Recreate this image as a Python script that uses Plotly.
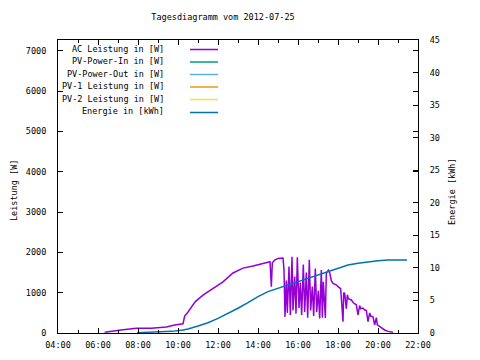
import plotly.graph_objects as go

DAY = "2012-07-25 "

ac_times = ["06:20", "06:45", "07:15", "07:55", "08:40", "09:25", "09:50", "10:15", "10:20", "10:30",
            "10:52", "11:15", "11:45", "12:15", "12:45", "13:15", "13:45", "14:15", "14:36", "14:40",
            "14:43", "14:50", "15:00", "15:15", "15:18", "15:21", "15:25", "15:28", "15:33", "15:37",
            "15:42", "15:45", "15:50", "15:54", "15:58", "16:03", "16:07", "16:11", "16:16", "16:20",
            "16:25", "16:29", "16:34", "16:38", "16:43", "16:47", "16:52", "16:56", "17:01", "17:05",
            "17:10", "17:13", "17:16", "17:22", "17:25", "17:31", "17:35", "17:40",
            "17:45", "17:56", "18:00", "18:08", "18:15", "18:17", "18:20", "18:25", "18:28", "18:31",
            "18:40", "18:46", "18:55", "19:00", "19:05", "19:08", "19:15", "19:20", "19:25", "19:30",
            "19:35", "19:38", "19:45", "19:50", "19:55", "19:58", "20:05", "20:10", "20:20", "20:30",
            "20:45", "21:05"]
ac_values = [20, 40, 80, 115, 120, 150, 200, 230, 420, 520,
             780, 940, 1115, 1270, 1490, 1610, 1660, 1735, 1770, 1150,
             1740, 1810, 1850, 1860, 1560, 400, 1300, 500, 1650, 450,
             1890, 560, 1400, 480, 1880, 620, 1250, 450, 1700, 520,
             1500, 380, 1820, 560, 1150, 420, 1600, 520, 1050, 360,
             1560, 380, 1270, 375, 1480, 1560, 1500,
             1300, 1230, 1190, 1150, 1100, 280, 1000, 980, 600, 950,
             850, 820, 750, 700, 450, 680, 600, 620, 570, 560,
             280, 500, 420, 400, 200, 380, 200, 160, 120, 75,
             40, 20]

en_times = ["07:57", "09:42", "10:15", "10:30", "11:00", "11:30", "12:00", "12:30", "13:00", "13:30",
            "14:00", "14:30", "15:00", "15:30", "16:00", "16:30", "17:00", "17:30", "18:00", "18:30",
            "19:00", "19:30", "20:00", "20:30", "21:27"]
en_values = [0.05, 0.25, 0.45, 0.6, 1.07, 1.58, 2.25, 3.0, 3.8, 4.66,
             5.58, 6.35, 6.87, 7.37, 7.88, 8.4, 8.9, 9.42, 10.03, 10.45,
             10.7, 10.95, 11.1, 11.2, 11.2]

series_names = ["AC Leistung in [W]", "PV-Power-In in [W]", "PV-Power-Out in [W]",
                "PV-1 Leistung in [W]", "PV-2 Leistung in [W]", "Energie in [kWh]"]
series_colors = ["#9400d3", "#009e73", "#56b4e9", "#e69f00", "#f0e442", "#0072b2"]

FONT = "DejaVu Sans Mono"
FS = 8.5

fig = go.Figure()
fig.add_trace(go.Scatter(x=[DAY + t for t in ac_times], y=ac_values, mode="lines",
                         line=dict(color=series_colors[0], width=1.5), name=series_names[0],
                         showlegend=False))
for i in range(1, 5):
    fig.add_trace(go.Scatter(x=[], y=[], mode="lines", line=dict(color=series_colors[i], width=1.5),
                             name=series_names[i], showlegend=False))
fig.add_trace(go.Scatter(x=[DAY + t for t in en_times], y=en_values, mode="lines", yaxis="y2",
                         line=dict(color=series_colors[5], width=1.5), name=series_names[5],
                         showlegend=False))

# legend: text right-aligned, sample line to the right (gnuplot style)
row_y = [48.5, 61, 73.5, 86, 98.5, 111.5]
def py(y):
    return (333 - y) / 293
def px(x):
    return (x - 58) / 360
for name, col, yy in zip(series_names, series_colors, row_y):
    fig.add_annotation(x=px(166), y=py(yy), xref="paper", yref="paper", text=name,
                       showarrow=False, xanchor="right", yanchor="middle",
                       font=dict(family=FONT, size=FS, color="black"))
    fig.add_shape(type="line", xref="paper", yref="paper", x0=px(190), x1=px(218),
                  y0=py(yy + 1), y1=py(yy + 1), line=dict(color=col, width=1.5))

fig.add_annotation(x=px(14), y=py(191), xref="paper", yref="paper", text="Leistung [W]",
                   textangle=-90, showarrow=False, xanchor="center", yanchor="middle",
                   font=dict(family=FONT, size=FS, color="black"))
fig.add_annotation(x=px(452), y=py(192), xref="paper", yref="paper", text="Energie [kWh]",
                   textangle=-90, showarrow=False, xanchor="center", yanchor="middle",
                   font=dict(family=FONT, size=FS, color="black"))

# page has an 8px body margin: figure is 472x352 placed at (8,8)
W, H = 472, 352
fig.update_layout(
    width=W, height=H,
    margin=dict(l=50, r=62, t=32, b=27, autoexpand=False),
    paper_bgcolor="white", plot_bgcolor="white",
    font=dict(family=FONT, size=FS, color="black"),
    title=dict(text="Tagesdiagramm vom 2012-07-25", x=(223 - 8) / W, xanchor="center",
               y=1 - (17 - 8) / H, yanchor="middle", font=dict(family=FONT, size=FS, color="black")),
    xaxis=dict(type="date", range=[DAY + "04:00", DAY + "22:00"], dtick=7200000,
               tick0=DAY + "04:00", tickformat="%H:%M", ticks="inside", ticklen=5,
               tickcolor="black", showline=True, linecolor="black", linewidth=1, mirror="ticks",
               showgrid=False, zeroline=False, ticklabelstandoff=4, automargin=False,
               minor=dict(dtick=3600000, ticks="inside", ticklen=3, tickcolor="black", showgrid=False)),
    yaxis=dict(range=[0, 7270], tickvals=[0, 1000, 2000, 3000, 4000, 5000, 6000, 7000],
               ticks="inside", ticklen=5, tickcolor="black", showline=True, linecolor="black",
               linewidth=1, mirror="ticks", showgrid=False, zeroline=False, ticklabelstandoff=9,
               automargin=False),
    yaxis2=dict(range=[0, 45], dtick=5, overlaying="y", side="right", ticks="inside", ticklen=5,
                tickcolor="black", showline=True, linecolor="black", linewidth=1, showgrid=False,
                zeroline=False, ticklabelstandoff=9, automargin=False),
    showlegend=False,
)

fig.write_html("out.html")
